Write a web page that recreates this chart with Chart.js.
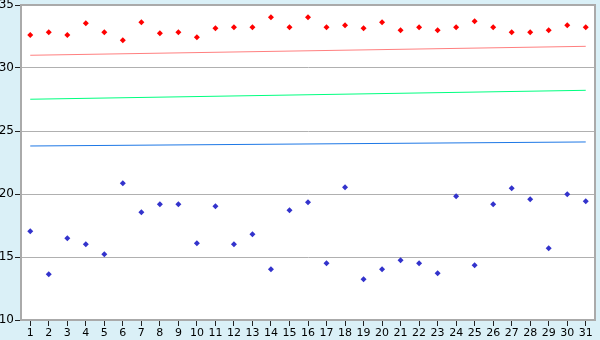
<!DOCTYPE html>
<html>
<head>
<meta charset="utf-8">
<script src="https://cdn.jsdelivr.net/npm/chart.js@4/dist/chart.umd.min.js"></script>
<style>
  html, body { margin: 0; padding: 0; background: #daf0f7; }
  #wrap { width: 600px; height: 340px; }
</style>
</head>
<body>
<div id="wrap"><canvas id="chart" width="600" height="340"></canvas></div>
<script>
const days = Array.from({ length: 31 }, (_, i) => String(i + 1))

// points hauts (rouge)
const highValues = [
  32.62, 32.83, 32.62, 33.55, 32.83, 32.2, 33.63, 32.75, 32.83, 32.44,
  33.15, 33.23, 33.23, 34.02, 33.23, 34.02, 33.23, 33.39, 33.15, 33.63,
  32.99, 33.23, 32.99, 33.23, 33.71, 33.23, 32.83, 32.83, 32.99, 33.39,
  33.23,
]

// points bas (bleu)
const lowValues = [
  17.04, 13.63, 16.48, 16.01, 15.21, 20.85, 18.55, 19.18, 19.18, 16.09,
  19.02, 16.01, 16.8, 14.02, 18.71, 19.34, 14.5, 20.53, 13.23, 14.02,
  14.74, 14.5, 13.71, 19.82, 14.34, 19.18, 20.45, 19.58, 15.69, 19.98,
  19.42,
]

// lignes de tendance : valeur au jour 1 et au jour 31
const redLine = [31.01, 31.72]
const greenLine = [27.52, 28.23]
const blueLine = [23.81, 24.13]

const yTicks = [10, 15, 20, 25, 30, 35]

const endpoints = (vals) => [
  { x: days[0], y: vals[0] },
  { x: days[days.length - 1], y: vals[1] },
]

const trendLine = (vals, color) => ({
  type: "line",
  data: endpoints(vals),
  borderColor: color,
  borderWidth: 1,
  pointRadius: 0,
  fill: false,
  tension: 0,
})

const pointSet = (vals, color) => ({
  type: "line",
  data: vals,
  showLine: false,
  pointStyle: "rectRot",
  pointRadius: 3,
  pointBackgroundColor: color,
  pointBorderColor: color,
  pointBorderWidth: 0,
})

const frame = {
  id: "frame",
  beforeDraw(chart) {
    const { ctx, chartArea: a } = chart
    ctx.save()
    ctx.fillStyle = "#daf0f7"
    ctx.fillRect(0, 0, chart.width, chart.height)
    ctx.fillStyle = "#ffffff"
    ctx.fillRect(a.left, a.top, a.right - a.left, a.bottom - a.top)
    ctx.restore()
  },
  afterDatasetsDraw(chart) {
    const { ctx, chartArea: a } = chart
    ctx.save()
    ctx.strokeStyle = "#aaaaaa"
    ctx.lineWidth = 2
    ctx.strokeRect(a.left, a.top, a.right - a.left, a.bottom - a.top)
    ctx.restore()
  },
}

new Chart(document.getElementById("chart").getContext("2d"), {
  data: {
    labels: days,
    datasets: [
      trendLine(redLine, "#ff8080"),
      trendLine(greenLine, "#00ff80"),
      trendLine(blueLine, "#1e78e6"),
      pointSet(highValues, "#ff0000"),
      pointSet(lowValues, "#3333cc"),
    ],
  },
  options: {
    responsive: false,
    animation: false,
    layout: { padding: { top: 0, right: 5, left: 0, bottom: 0 } },
    plugins: {
      legend: { display: false },
      tooltip: { enabled: false },
    },
    scales: {
      x: {
        type: "category",
        offset: true,
        afterFit: (scale) => { scale.height = 20 },
        grid: {
          drawOnChartArea: false,
          tickLength: 6,
          tickColor: "#222222",
          offset: false,
        },
        border: { color: "#aaaaaa" },
        ticks: {
          autoSkip: false,
          maxRotation: 0,
          padding: 1,
          color: "#000000",
          font: { family: "DejaVu Sans", size: 11 },
        },
      },
      y: {
        min: 10,
        max: 35,
        afterFit: (scale) => {
          scale.width = 21
          scale.paddingTop = 5
        },
        afterBuildTicks: (scale) => {
          scale.ticks = yTicks.map((v) => ({ value: v }))
        },
        grid: {
          color: "#b0b0b0",
          tickLength: 6,
          tickColor: "#222222",
        },
        border: { color: "#aaaaaa" },
        ticks: {
          padding: 1,
          color: "#000000",
          font: { family: "DejaVu Sans", size: 12 },
        },
      },
    },
  },
  plugins: [frame],
})
</script>
</body>
</html>
